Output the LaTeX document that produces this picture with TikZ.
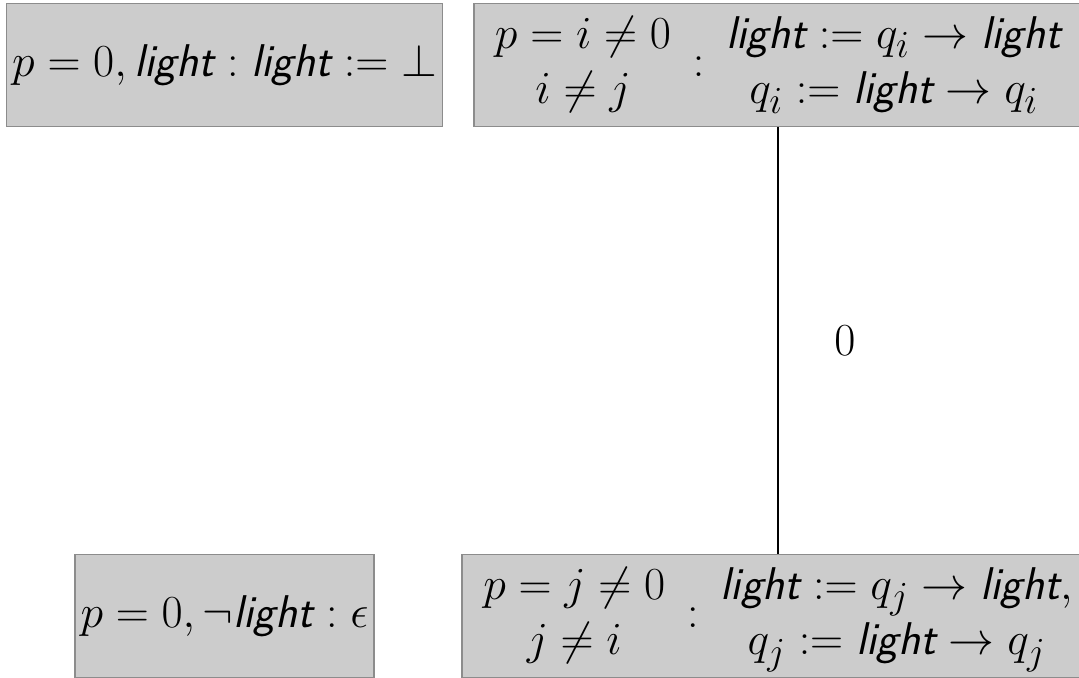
\documentclass[tikz,border=0pt]{standalone}
\usepackage{amsmath}
\usetikzlibrary{positioning}

\newcommand{\lightvar}{\textsf{\itshape light}}

\begin{document}
\begin{tikzpicture}[
    state/.style={draw=black!45, thick, fill=black!20, minimum height=2.34cm,
      inner sep=3pt, font=\Huge},
    guard/.style={state, inner xsep=6.5pt},
    edge/.style={very thick}
  ]
    \clip (-4.278,1.239) rectangle (16.282,-11.661);
    \node[state] (zero) {$p=0, \lightvar : \lightvar := \bot$};
    \node[guard] (pi) at (10.547,0) {$\begin{array}{c} p=i\neq 0\\ i\neq j\end{array} :
      \begin{array}{c} \lightvar := q_i \rightarrow \lightvar\\ q_i := \lightvar \rightarrow q_i\end{array}$};
    \node[state] (zerodark) at (0,-10.50) {$p=0, \neg\lightvar : \epsilon$};
    \node[guard] (pj) at (10.547,-10.50) {$\begin{array}{c} p=j\neq 0\\ j\neq i\end{array} :
      \begin{array}{c} \lightvar := q_j \rightarrow \lightvar,\\ q_j := \lightvar \rightarrow q_j\end{array}$};
    \draw[edge] (pi) -- (pj) node[midway, right=0.935cm, font=\Huge] {$0$};
  \end{tikzpicture}
\end{document}
